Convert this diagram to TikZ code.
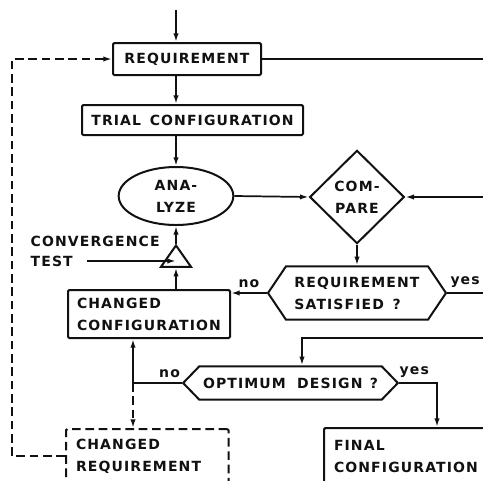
\documentclass[tikz,border=0pt]{standalone}
\usepackage{fontspec}
\usepackage{tikz}
\usetikzlibrary{shapes.geometric, shapes.symbols, arrows.meta, positioning, calc}
\newfontfamily\flowfont{DejaVu Sans}[LetterSpace=8]
\definecolor{inkblack}{HTML}{111111}

\begin{document}
\begin{tikzpicture}[x=0.75pt, y=-0.75pt,
      font=\flowfont\bfseries\fontsize{10.5}{16.5}\selectfont,
      every node/.style={text=inkblack},
      box/.style={rectangle, draw=inkblack, line width=1.5pt, rounded corners=1pt, inner sep=0pt, align=left},
      oval/.style={ellipse, draw=inkblack, line width=1.5pt, inner sep=0pt, align=center, minimum width=86pt, minimum height=43.5pt},
      rhomb/.style={diamond, aspect=1, draw=inkblack, line width=1.5pt, inner sep=0pt, align=center, minimum width=71pt, minimum height=70pt},
      hexbox/.style={signal, signal to=east and west, draw=inkblack, line width=1.5pt, inner sep=2pt, align=left},
      tri/.style={isosceles triangle, isosceles triangle apex angle=72, shape border rotate=90, draw=inkblack, line width=1.5pt, inner sep=0pt, minimum width=22.5pt, minimum height=16pt, isosceles triangle stretches},
      arr/.style={-{Latex[length=6.5pt, width=4pt]}, line width=1.3pt, inkblack},
      wire/.style={line width=1.3pt, inkblack},
      dashloop/.style={dash pattern=on 6.5pt off 3.5pt}
    ]
      \useasboundingbox (0,0) rectangle (483,480);

      % main column
      \coordinate (in) at (176,10);
      \node[box, minimum width=111pt, minimum height=24pt] (req) at (187,59) {REQUIREMENT};
      \node[box, minimum width=165.75pt, minimum height=22.5pt] (trial) at (192.5,120) {TRIAL\hspace{2pt} CONFIGURATION};
      \node[oval] (ana) at (176,196) {ANA-\\LYZE};
      \node[rhomb] (comp) at (357,197) {COM-\\PARE};
      \node[hexbox, signal pointer angle=112, minimum width=133.5pt, minimum height=40pt] (sat) at (357,293) {REQUIREMENT\\SATISFIED\hspace{2pt} ?};

      % convergence test
      \node[tri] (conv) at (176,259) {};
      \node[anchor=west] (convlbl) at (26,241) {CONVERGENCE};
      \node[anchor=west] (testlbl) at (26,261) {TEST};

      \node[box, minimum width=121.5pt, minimum height=36pt, inner xsep=6.5pt, text width=108pt] (chcfg) at (149,314) {CHANGED\\CONFIGURATION};
      \node[hexbox, signal pointer angle=92, minimum width=161pt, minimum height=25pt] (opt) at (290.5,383) {OPTIMUM\hspace{4pt} DESIGN\hspace{1pt} ?};

      \node[box, dashloop, anchor=north west, minimum width=122pt, minimum height=41pt, inner xsep=7.5pt, text width=107pt] (chreq) at (65,428) {CHANGED\\REQUIREMENT};
      \node[box, anchor=north west, minimum width=180pt, minimum height=42pt, inner xsep=7.5pt, text width=165pt] (final) at (323,427) {FINAL\\CONFIGURATION};

      % loose ends and corners
      \coordinate (outreq) at (483,59);
      \coordinate (incomp) at (483,197);
      \coordinate (outsat) at (483,293);
      \coordinate (inopt) at (483,338);
      \coordinate (optin) at (302,338);
      \coordinate (jn) at (133,383);
      \coordinate (yesturn) at (437,383);
      \coordinate (loopcorner) at (12,59);

      \draw[arr] (in) -- (in |- req.north);
      \draw[arr] (req.south -| in) -- (trial.north -| in);
      \draw[arr] (trial.south -| ana) -- (ana.north);
      \draw[wire] (req.east) -- (outreq);
      \draw[arr] (ana.east) -- (comp.west);
      \draw[arr] (incomp) -- (comp.east);
      \draw[arr] (comp.south) -- (sat.north);
      \draw[arr] (sat.west) -- (sat.west -| chcfg.east) node[midway, above] {no};
      \draw[wire] (sat.east) -- (outsat) node[midway, above] {yes};

      \draw[arr] (chcfg.north -| conv) -- (conv.lower side);
      \draw[arr] (conv.apex) -- (ana.south);
      \draw[arr] ([xshift=7pt]testlbl.east) -- (testlbl.east -| conv.apex);

      \draw[arr] (inopt) -- (optin) -- (optin |- opt.north);
      \draw[wire] (opt.west) -- (jn) node[pos=0.25, above] {no};
      \draw[arr] (jn) -- (jn |- chcfg.south);
      \draw[arr, dashloop] (jn) -- (jn |- chreq.north);
      \draw[arr] (opt.east) -- (yesturn) node[pos=0.4, above] {yes} -- (yesturn |- final.north);

      \draw[arr, dashloop] (chreq.west) -| (loopcorner) -- (req.west);
    \end{tikzpicture}
\end{document}
